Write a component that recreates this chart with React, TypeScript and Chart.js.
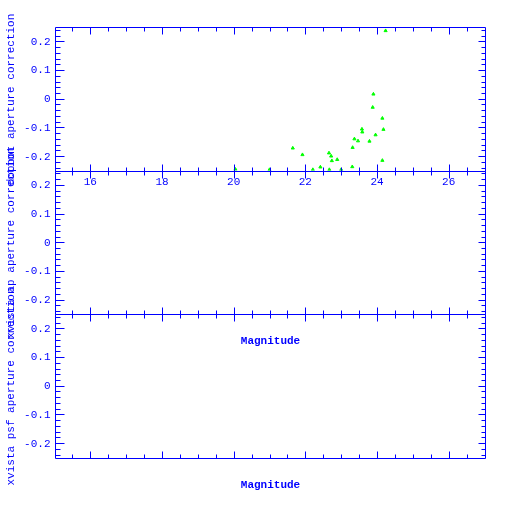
import React, { useEffect, useRef } from "react";
import { Chart, registerables } from "chart.js";

Chart.register(...registerables);

// ---- data ----
const magnitudes = [
  24.24, 23.9, 23.88, 24.15, 24.18, 23.96, 23.58, 23.59, 23.37, 23.47, 23.79, 23.32, 24.15,
  23.31, 21.65, 21.92, 22.66, 22.72, 22.74, 22.89, 22.42, 22.21, 22.67, 23.0, 20.05, 21.0,
];
const dophotCorrections = [
  0.237, 0.016, -0.03, -0.068, -0.107, -0.126, -0.106, -0.116, -0.14, -0.147, -0.148, -0.17,
  -0.215, -0.237, -0.172, -0.195, -0.189, -0.2, -0.216, -0.212, -0.238, -0.247, -0.247, -0.247,
  -0.246, -0.247,
];

const xMajorTicks = [16, 18, 20, 22, 24, 26];
const xTickLabels = ["16", "18", "20", "22", "24", "26"];
const yMajorTicks = [0.2, 0.1, 0, -0.1, -0.2];
const yTickLabels = ["0.2", "0.1", "0", "-0.1", "-0.2"];
const panelTitles = [
  "dophot aperture correction",
  "xvista ap aperture correction",
  "xvista psf aperture correction",
];
const xTitle = "Magnitude";

// ---- layout / style ----
const BLUE = "#0000ff";
const GREEN = "#00ff00";
const FONT = "11px 'Liberation Mono', 'DejaVu Sans Mono', monospace";
const BOLD_FONT = "bold 11px 'Liberation Mono', 'DejaVu Sans Mono', monospace";
const X_MIN = 15;
const X_MAX = 27;
const Y_MIN = -0.25;
const Y_MAX = 0.25;

const panels = [
  { top: 27, bottom: 170.5, xLabels: true, xTitle: false, data: true },
  { top: 170.5, bottom: 314, xLabels: false, xTitle: true, data: false },
  { top: 314, bottom: 457.5, xLabels: false, xTitle: true, data: false },
];

function makeFramePlugin(index: number) {
  const panel = panels[index];
  return {
    id: "frame" + index,
    afterDatasetsDraw(chart: any) {
      const ctx = chart.ctx as CanvasRenderingContext2D;
      const xs = chart.scales.x;
      const ys = chart.scales.y;
      const px = (v: number) => Math.round(xs.getPixelForValue(v)) + 0.5;
      const py = (v: number) => Math.round(ys.getPixelForValue(v)) + 0.5;
      const L = px(X_MIN);
      const R = px(X_MAX);
      const T = py(Y_MAX);
      const B = py(Y_MIN);
      ctx.save();
      ctx.strokeStyle = BLUE;
      ctx.lineWidth = 1;
      ctx.beginPath();
      ctx.rect(L, T, R - L, B - T);
      // x ticks (inward, top and bottom)
      for (let k = 1; k < (X_MAX - X_MIN) * 2; k++) {
        const v = X_MIN + k * 0.5;
        const major = xMajorTicks.indexOf(v) >= 0;
        const len = major ? 7 : 4;
        const x = px(v);
        ctx.moveTo(x, B);
        ctx.lineTo(x, B - len);
        ctx.moveTo(x, T);
        ctx.lineTo(x, T + len);
      }
      // y ticks (inward, left and right)
      for (let i = -12; i <= 12; i++) {
        const v = i * 0.02;
        const major = i % 5 === 0;
        const y = py(v);
        ctx.moveTo(L, y);
        ctx.lineTo(L + (major ? 9 : 5), y);
        ctx.moveTo(R, y);
        ctx.lineTo(R - (major ? 7 : 4), y);
      }
      ctx.stroke();

      ctx.fillStyle = BLUE;
      ctx.font = FONT;
      ctx.textAlign = "right";
      ctx.textBaseline = "middle";
      yMajorTicks.forEach((v, i) => {
        ctx.fillText(yTickLabels[i], L - 5, ys.getPixelForValue(v) + 0.5);
      });
      if (panel.xLabels) {
        ctx.textAlign = "center";
        xMajorTicks.forEach((v, i) => {
          ctx.fillText(xTickLabels[i], xs.getPixelForValue(v), B + 11);
        });
      }
      if (panel.xTitle) {
        ctx.font = BOLD_FONT;
        ctx.textAlign = "center";
        ctx.fillText(xTitle, (L + R) / 2, B + 27);
      }
      ctx.font = FONT;
      ctx.textAlign = "center";
      ctx.translate(11, (T + B) / 2);
      ctx.rotate(-Math.PI / 2);
      ctx.fillText(panelTitles[index], 0, 0);
      ctx.restore();
    },
  };
}

function Panel({ index }: { index: number }) {
  const ref = useRef<HTMLCanvasElement | null>(null);
  useEffect(() => {
    const panel = panels[index];
    const points = panel.data
      ? magnitudes.map((m, i) => ({ x: m, y: dophotCorrections[i] }))
      : [];
    const chart = new Chart(ref.current as HTMLCanvasElement, {
      type: "scatter",
      data: {
        datasets: [
          {
            data: points,
            pointStyle: "triangle",
            pointRadius: 1.8,
            borderWidth: 1,
            borderColor: GREEN,
            backgroundColor: GREEN,
          },
        ],
      },
      options: {
        responsive: false,
        animation: false,
        devicePixelRatio: 1,
        layout: {
          padding: { left: 54.5, right: 512 - 484.5, top: panel.top, bottom: 512 - panel.bottom },
        },
        plugins: { legend: { display: false }, tooltip: { enabled: false } },
        scales: {
          x: { type: "linear", min: X_MIN, max: X_MAX, display: false },
          y: { type: "linear", min: Y_MIN, max: Y_MAX, display: false },
        },
      },
      plugins: [makeFramePlugin(index)],
    } as any);
    return () => chart.destroy();
  }, [index]);
  return (
    <canvas
      ref={ref}
      width={512}
      height={512}
      style={{ position: "absolute", left: 0, top: 0, width: 512, height: 512 }}
    />
  );
}

export default function App() {
  return (
    <div style={{ position: "absolute", left: 0, top: 0, width: 512, height: 512, background: "#fff" }}>
      <Panel index={0} />
      <Panel index={1} />
      <Panel index={2} />
    </div>
  );
}
